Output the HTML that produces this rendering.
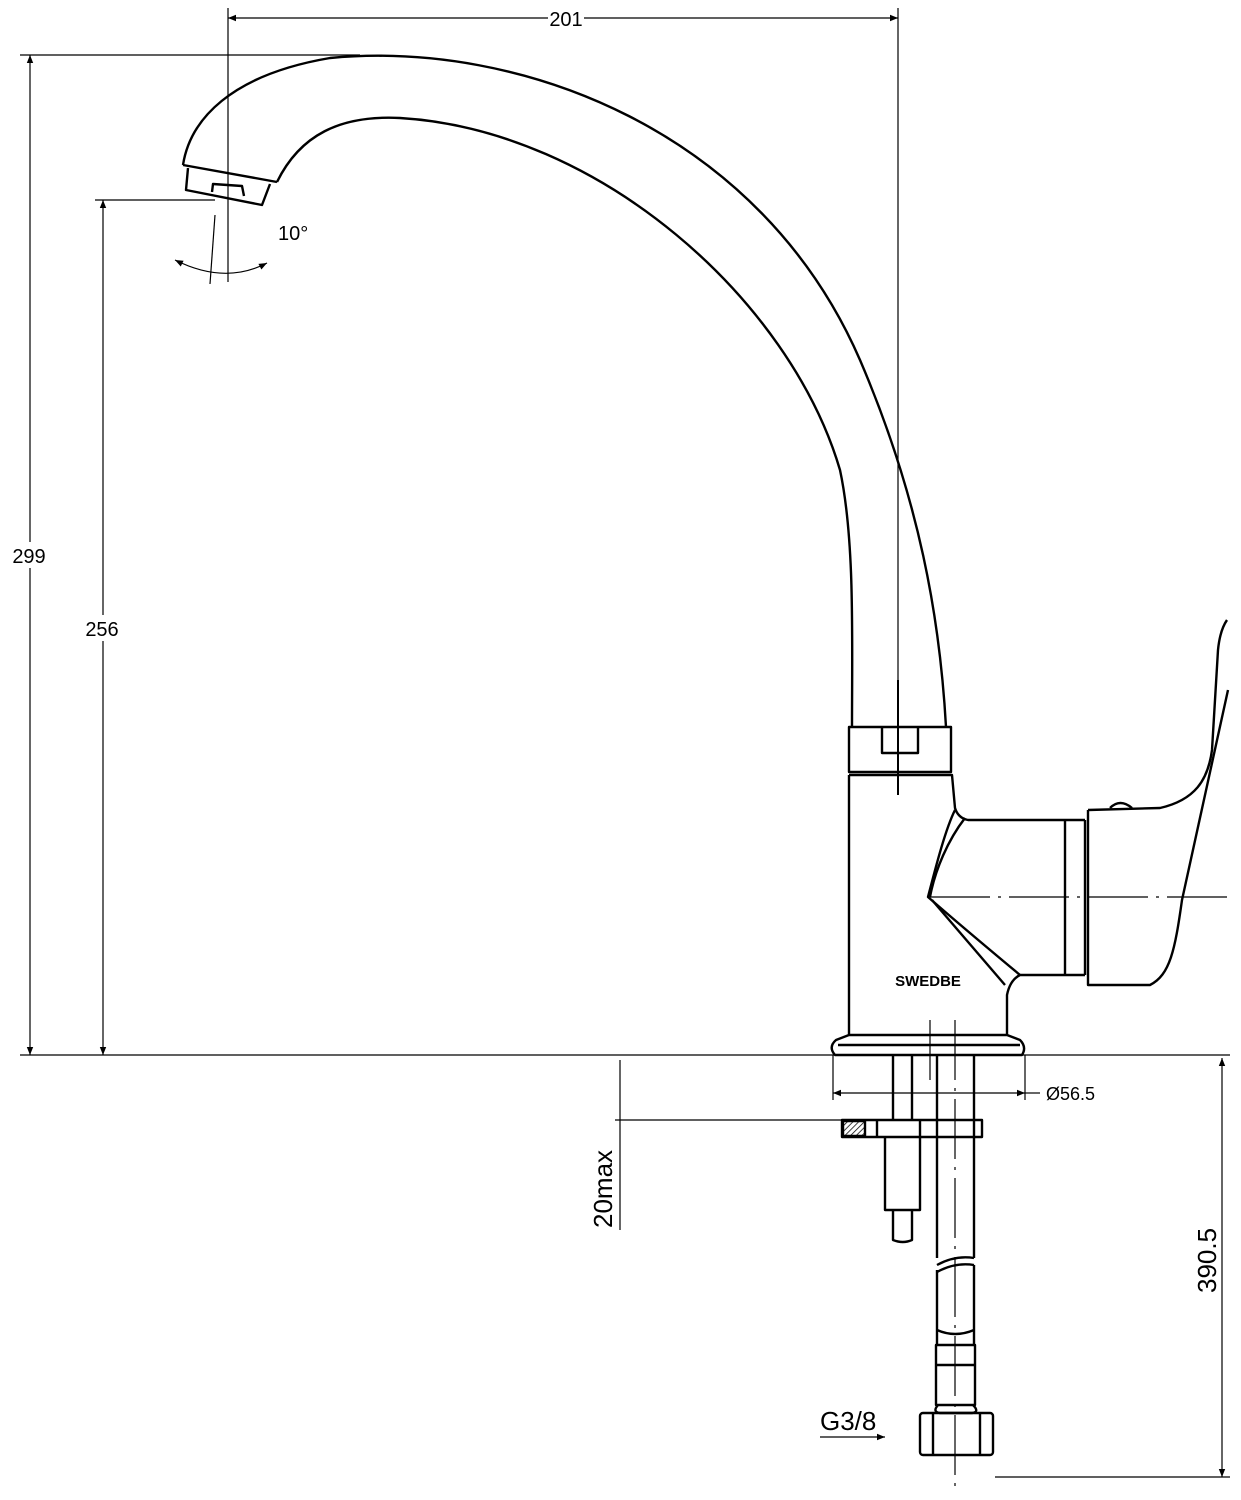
<!DOCTYPE html>
<html><head><meta charset="utf-8"><style>
html,body{margin:0;padding:0;background:#fff;}
svg{display:block}
text{font-family:"Liberation Sans",sans-serif;fill:#000}
</style></head><body>
<svg width="1241" height="1500" viewBox="0 0 1241 1500" xmlns="http://www.w3.org/2000/svg">
<defs>
<marker id="a" viewBox="0 0 10 10" refX="10" refY="5" markerWidth="14" markerHeight="8" orient="auto-start-reverse" markerUnits="userSpaceOnUse"><path d="M0,1 L10,5 L0,9 Z" fill="#000"/></marker>
<pattern id="h" width="4" height="4" patternUnits="userSpaceOnUse" patternTransform="rotate(45)"><line x1="0" y1="0" x2="0" y2="4" stroke="#000" stroke-width="1.5"/></pattern>
</defs>
<g fill="none" stroke="#000" stroke-width="1.2">
<!-- dimension lines -->
<line x1="228" y1="18" x2="898" y2="18" marker-start="url(#a)" marker-end="url(#a)"/>
<line x1="228" y1="8" x2="228" y2="282"/>
<line x1="898" y1="8" x2="898" y2="795"/>
<line x1="30" y1="55" x2="30" y2="1055" marker-start="url(#a)" marker-end="url(#a)"/>
<line x1="20" y1="55" x2="360" y2="55"/>
<line x1="103" y1="200" x2="103" y2="1055" marker-start="url(#a)" marker-end="url(#a)"/>
<line x1="95" y1="200" x2="215" y2="200"/>
<line x1="20" y1="1055" x2="1230" y2="1055"/>
<line x1="620" y1="1060" x2="620" y2="1230"/>
<line x1="615" y1="1120" x2="845" y2="1120"/>
<line x1="1222" y1="1058" x2="1222" y2="1477" marker-start="url(#a)" marker-end="url(#a)"/>
<line x1="995" y1="1477" x2="1230" y2="1477"/>
<line x1="833" y1="1093" x2="1025" y2="1093" marker-start="url(#a)" marker-end="url(#a)"/>
<line x1="1025" y1="1093" x2="1040" y2="1093"/>
<line x1="833" y1="1055" x2="833" y2="1100"/>
<line x1="1025" y1="1055" x2="1025" y2="1100"/>
<line x1="820" y1="1437" x2="885" y2="1437" marker-end="url(#a)"/>
<!-- 10 deg -->
<line x1="215" y1="215" x2="210" y2="284"/>
<path d="M175,260 Q225,285 267,263" marker-start="url(#a)" marker-end="url(#a)"/>
<!-- centerlines -->
<line x1="930" y1="897" x2="1230" y2="897" stroke-dasharray="60,8,3,8"/>
<line x1="955" y1="1020" x2="955" y2="1490" stroke-dasharray="60,8,3,8"/>
<line x1="930" y1="1020" x2="930" y2="1080"/>
<line x1="898" y1="680" x2="898" y2="795" stroke-width="2"/>
</g>
<g fill="none" stroke="#000" stroke-width="2.4" stroke-linejoin="round">
<!-- spout -->
<path d="M183,165 C190,120 230,75 330,58 C520,40 760,130 860,360 C920,500 940,620 946,727"/>
<path d="M277,182 C300,135 340,115 400,118 C600,130 790,300 840,470 C855,540 852,640 852,727"/>
<path d="M183,165 L277,182"/>
<path d="M188,168 L186,190 L262,205 L270,184"/>
<path d="M212,192 L213,184 L242,186 L244,196"/>
<!-- collar -->
<rect x="849" y="727" width="102" height="45"/>
<path d="M882,728 L882,753 L918,753 L918,728"/>
<!-- body -->
<path d="M849,775 L952,775 L955,808 Q958,818 968,820 L1085,820"/>
<path d="M849,775 L849,1035"/>
<path d="M1007,1035 L1007,995 Q1010,980 1020,975 L1085,975"/>
<path d="M955,810 C945,830 935,870 928,897 C960,925 990,950 1020,975"/>
<path d="M965,818 C948,840 935,870 930,897"/>
<path d="M932,900 L1005,985"/>
<path d="M1085,820 L1085,975"/>
<line x1="1065" y1="820" x2="1065" y2="975"/>
<!-- lever -->
<path d="M1088,810 L1088,985 L1150,985 C1170,975 1175,950 1182,900 L1228,690"/>
<path d="M1088,810 L1160,808 C1195,800 1208,780 1212,750 L1218,650 Q1220,630 1227,620"/>
<path d="M1110,808 Q1120,798 1132,808"/>
<!-- flange -->
<path d="M849,1035 L1007,1035 L1020,1040 Q1027,1047 1022,1055 L835,1055 Q828,1047 836,1040 Z"/>
<line x1="838" y1="1045" x2="1020" y2="1045"/>
<!-- under-sink -->
<line x1="893" y1="1055" x2="893" y2="1120"/>
<line x1="912" y1="1055" x2="912" y2="1120"/>
<line x1="937" y1="1055" x2="937" y2="1258"/>
<line x1="974" y1="1055" x2="974" y2="1258"/>
<rect x="842" y="1120" width="140" height="17"/>
<rect x="843" y="1121" width="22" height="15" fill="url(#h)"/>
<line x1="877" y1="1120" x2="877" y2="1137"/>
<line x1="920" y1="1120" x2="920" y2="1137"/>
<path d="M885,1137 L885,1210 L920,1210 L920,1137"/>
<path d="M893,1210 L893,1240 Q903,1244 912,1240 L912,1210"/>
<path d="M937,1265 Q955,1255 974,1258"/>
<path d="M937,1272 Q955,1262 974,1265"/>
<line x1="937" y1="1270" x2="937" y2="1345"/>
<line x1="974" y1="1265" x2="974" y2="1345"/>
<path d="M937,1330 Q955,1338 974,1330"/>
<rect x="936" y="1345" width="39" height="60"/>
<line x1="936" y1="1365" x2="975" y2="1365"/>
<path d="M938,1405 Q932,1412 940,1413 L972,1413 Q980,1412 973,1405"/>
<rect x="920" y="1413" width="73" height="42" rx="3"/>
<line x1="933" y1="1413" x2="933" y2="1455"/>
<line x1="980" y1="1413" x2="980" y2="1455"/>
</g>
<g font-size="20">
<rect x="548" y="8" width="36" height="22" fill="#fff"/>
<text x="566" y="26" text-anchor="middle">201</text>
<rect x="10" y="542" width="40" height="26" fill="#fff"/>
<text x="29" y="563" text-anchor="middle">299</text>
<rect x="83" y="615" width="40" height="26" fill="#fff"/>
<text x="102" y="636" text-anchor="middle">256</text>
<text x="278" y="240">10°</text>
<text x="1046" y="1100" font-size="18">Ø56.5</text>
<text x="820" y="1430" font-size="26">G3/8</text>
<text transform="translate(612,1228) rotate(-90)" font-size="26">20max</text>
<text transform="translate(1216,1293) rotate(-90)" font-size="26">390.5</text>
<text x="928" y="986" text-anchor="middle" font-size="15" font-weight="bold">SWEDBE</text>
</g>
</svg>
</body></html>
